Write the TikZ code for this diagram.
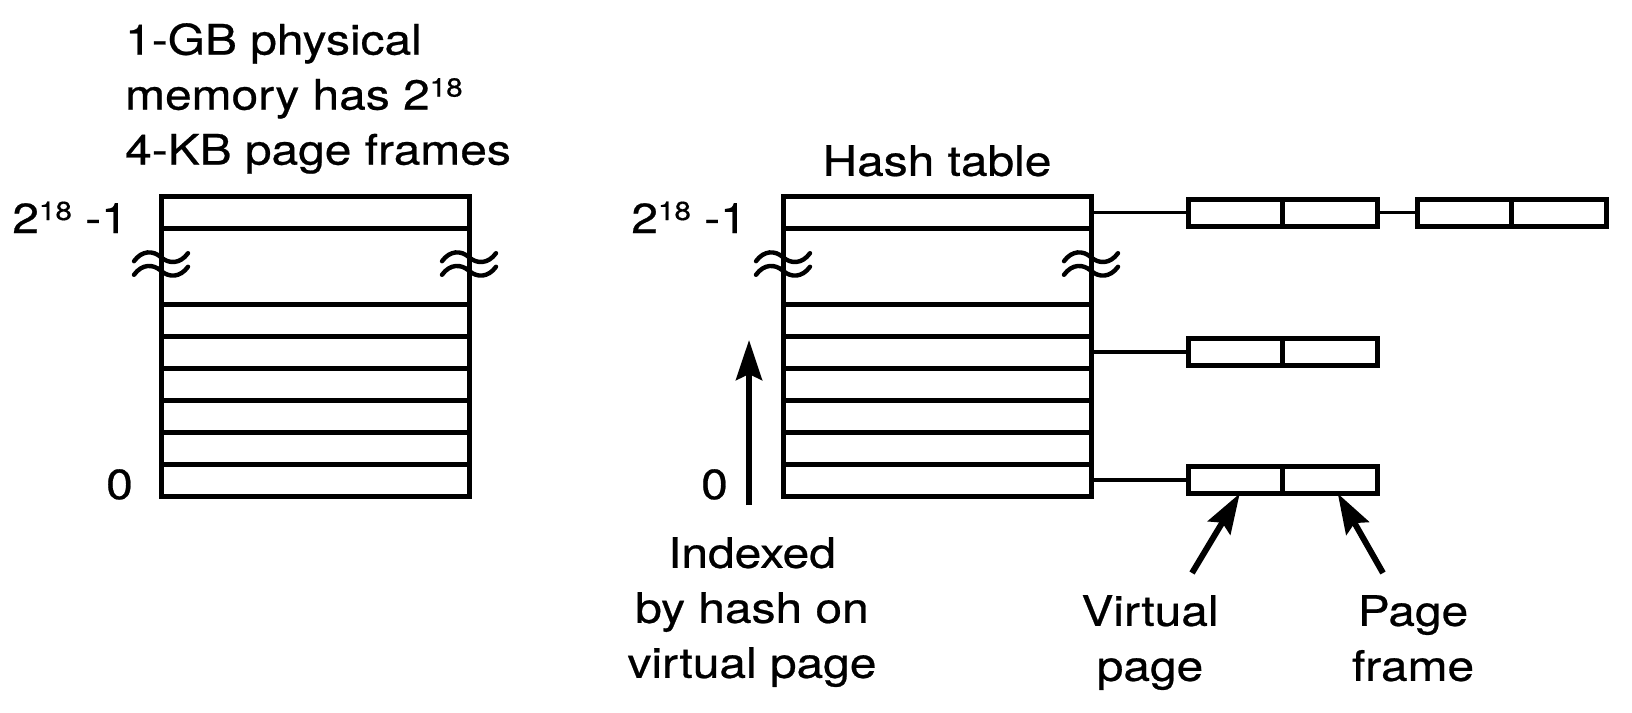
\documentclass[tikz,border=0pt]{standalone}
\usepackage{fontspec}
\setmainfont{TeX Gyre Heros}[FakeStretch=1.14,FakeBold=0.6]
\usetikzlibrary{arrows.meta,positioning,calc}
\newcommand{\supnum}[1]{\raisebox{13pt}{\fontsize{26}{26}\selectfont #1}}
\tikzset{
  slot/.style={rectangle, draw, line width=5pt, minimum width=308pt, minimum height=32pt,
               inner sep=0pt, outer sep=0pt},
  cell/.style={rectangle, draw, line width=5pt, minimum width=94.5pt, minimum height=27pt,
               inner sep=0pt, outer sep=0pt},
  side/.style={line width=5pt},
  link/.style={line width=3.6pt},
  brk/.style={line width=4.4pt, line cap=round},
  ptr/.style={-{Stealth[length=40pt,width=26pt,inset=6pt]}, line width=6pt},
  lbl/.style={font=\fontsize{42}{55}\selectfont, inner sep=0pt, align=center},
}

\begin{document}
\begin{tikzpicture}[x=1pt,y=-1pt]
\useasboundingbox (0,0) rectangle (1632,712);
% the two tables
\node[slot] (pt) at (315,212.5) {};
\node[slot] (ht) at (937,212.5) {};
\foreach \i in {1,...,6} {
  \node[slot] (p\i) at (315,{304+(\i-0.5)*32}) {};
  \node[slot] (h\i) at (937,{304+(\i-0.5)*32}) {};
}
\draw[side] (pt.south west) -- (p1.north west) (pt.south east) -- (p1.north east)
            (ht.south west) -- (h1.north west) (ht.south east) -- (h1.north east);
% break marks
\foreach \a/\b in {pt/p1,ht/h1}
  \foreach \s in {west,east}
    \foreach \f in {0.38,0.56} {
      \path ($(\a.south \s)!\f!(\b.north \s)$) coordinate (w);
      \draw[brk, shift={(w)}] (-27,4) .. controls (-19,-7) and (-8,-7) .. (0,0)
                              .. controls (8,7) and (19,7) .. (27,-4);
    }
% chains
\node[cell, right=97pt of ht] (v1) {};
\node[cell, right=0pt of v1] (f1) {};
\node[cell, right=40pt of f1] (v2) {};
\node[cell, right=0pt of v2] (f2) {};
\node[cell, right=97pt of h2] (v3) {};
\node[cell, right=0pt of v3] (f3) {};
\node[cell, right=97pt of h6] (v4) {};
\node[cell, right=0pt of v4] (f4) {};
\draw[link] (ht) -- (v1) (f1) -- (v2) (h2) -- (v3) (h6) -- (v4);
% labels
\node[lbl, anchor=north west, align=left] (ptitle) at (125,23)
  {1-GB physical\\memory has 2\supnum{18}\\4-KB page frames};
\node[lbl, anchor=north] (htitle) at (937,145) {Hash table};
\node[lbl, anchor=base east] (ptop) at (128,233) {2\supnum{18} -1};
\node[lbl, anchor=base east] (htop) at (747,233) {2\supnum{18} -1};
\node[lbl, anchor=base east] (pzero) at (133,499) {0};
\node[lbl, anchor=base east] (hzero) at (728,499) {0};
\node[lbl, anchor=north] (idx) at (752,537) {Indexed\\by hash on\\virtual page};
\node[lbl, anchor=north] (vpl) at (1150,595) {Virtual\\page};
\node[lbl, anchor=north] (pfl) at (1413,595) {Page\\frame};
% pointers
\coordinate (idxfoot) at (749,505);
\coordinate (idxhead) at (749,340);
\draw[ptr] (idxfoot) -- (idxhead);
\coordinate (vpfoot) at (1192,573);
\draw[ptr] (vpfoot) -- ([xshift=4.5pt]v4.south);
\coordinate (pffoot) at (1383,573);
\draw[ptr] (pffoot) -- ([xshift=8pt]f4.south);
\end{tikzpicture}
\end{document}
